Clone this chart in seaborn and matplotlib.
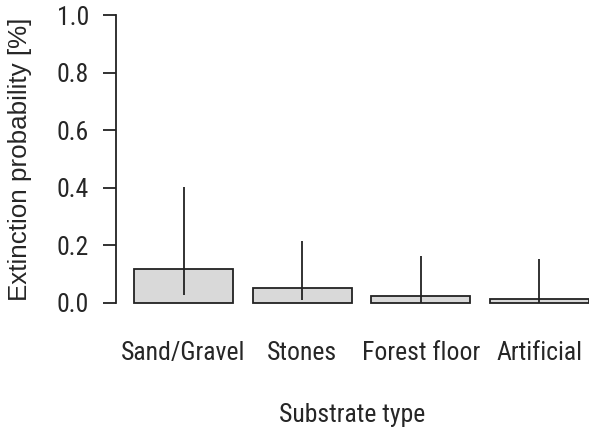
import matplotlib
matplotlib.use("Agg")
import matplotlib.pyplot as plt
import seaborn as sns
import pandas as pd

categories = ["Sand/Gravel", "Stones", "Forest floor", "Artificial"]
probability = [0.117, 0.053, 0.024, 0.013]
ci_lower = [0.028, 0.010, 0.0, 0.0]
ci_upper = [0.404, 0.215, 0.163, 0.152]
yticks = [0.0, 0.2, 0.4, 0.6, 0.8, 1.0]

sns.set_theme(style="white")
plt.rcParams['font.family'] = ['Roboto Condensed', 'Liberation Sans', 'DejaVu Sans']

df = pd.DataFrame({"Substrate": categories, "Prob": probability})

FS = 18.5
TXT = "#262626"
W, H = 589, 434
fig = plt.figure(figsize=(W / 100, H / 100), dpi=100)
ax_left, ax_right = 116, 589
ax_top, ax_bot = 3.5, 314.5
ax = fig.add_axes([ax_left / W, (H - ax_bot) / H, (ax_right - ax_left) / W, (ax_bot - ax_top) / H])

sns.barplot(data=df, x="Substrate", y="Prob", ax=ax, color="#d9d9d9",
            edgecolor="#222222", linewidth=1.3, width=1 / 1.2, errorbar=None,
            saturation=1)
ax.vlines(range(len(categories)), ci_lower, ci_upper, color="#222222", linewidth=1.3)

ax.set_xlim(-0.57, 3.42)
ax.set_ylim(-0.04, 1.04)
ax.set_yticks(yticks)
ax.set_yticklabels([f"{v:.1f}" for v in yticks])

for s in ["top", "right", "bottom"]:
    ax.spines[s].set_visible(False)
ax.spines["left"].set_bounds(0, 1)
ax.spines["left"].set_color("#222222")
ax.spines["left"].set_linewidth(1.3)

ax.tick_params(axis="y", left=True, length=9.5, width=1.3, color="#222222",
               pad=10, labelsize=FS, labelcolor=TXT)
ax.tick_params(axis="x", bottom=False, length=0, pad=19, labelsize=FS,
               labelcolor=TXT)

ax.set_ylabel("Extinction probability [%]", fontsize=18.7, color=TXT,
              family=["Liberation Sans", "DejaVu Sans"])
ax.set_xlabel("Substrate type", fontsize=FS, color=TXT)
ax.yaxis.label.set_va("center")
ax.yaxis.set_label_coords(-0.203, 0.5)
ax.xaxis.label.set_va("center")
ax.xaxis.set_label_coords(0.5, -0.322)

fig.savefig("out.png", dpi=100, facecolor="white")
